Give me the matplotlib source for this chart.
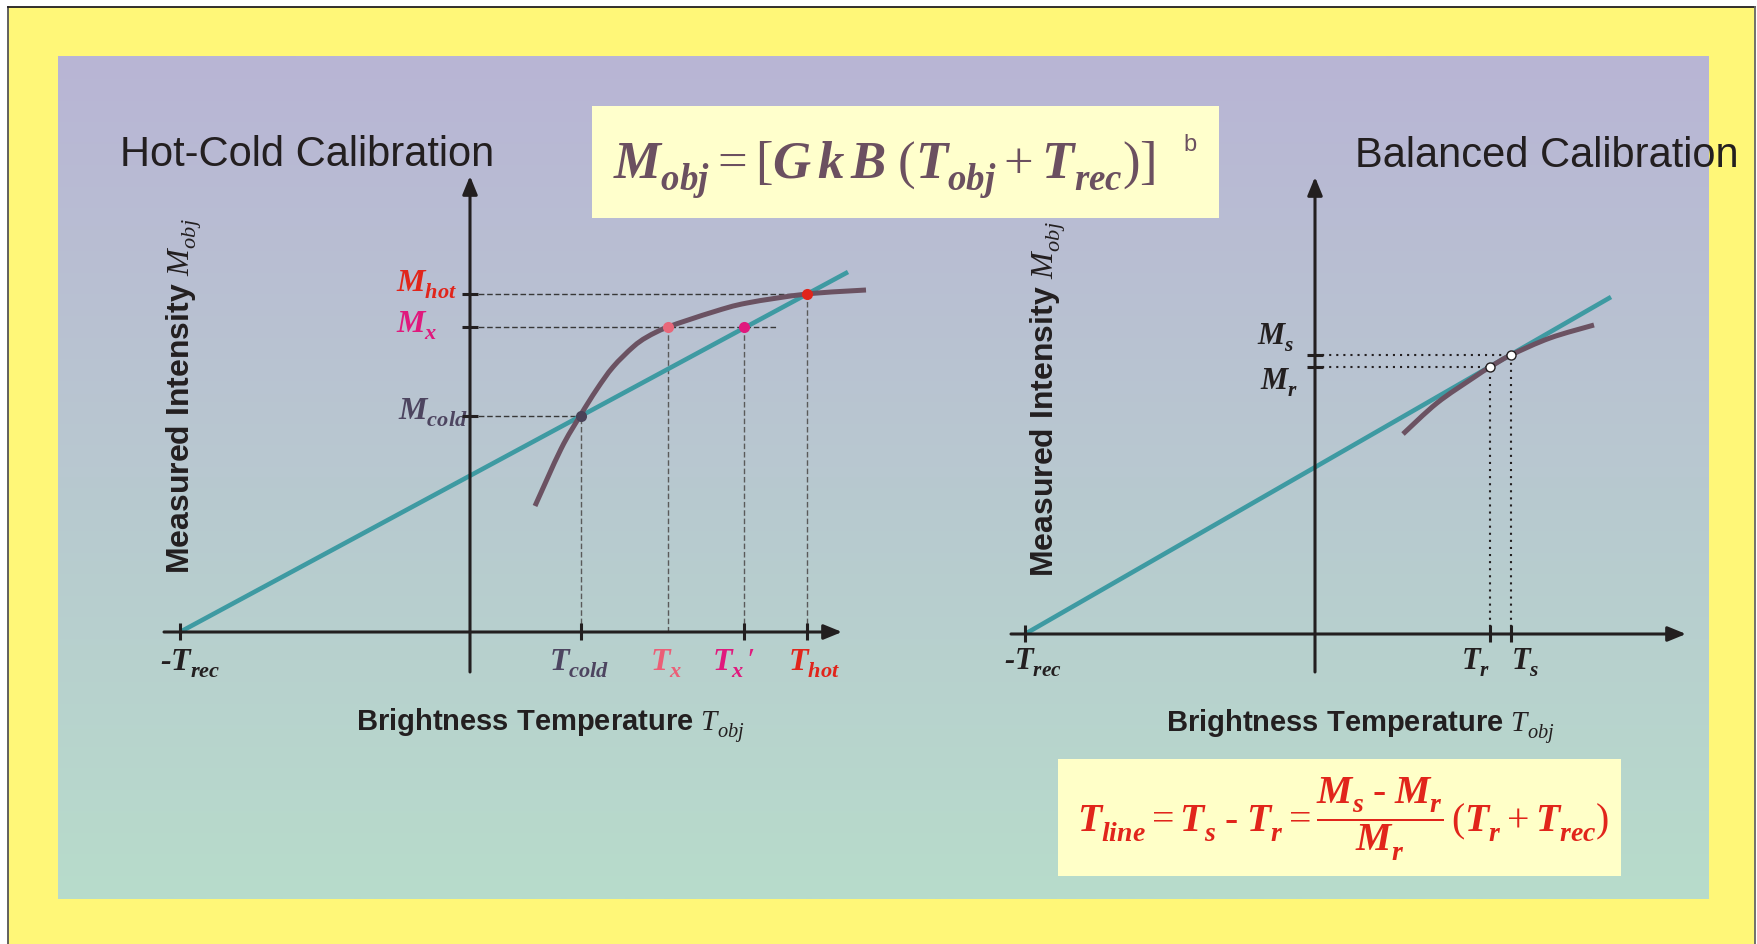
import numpy as np
import matplotlib
matplotlib.use("Agg")
import matplotlib.pyplot as plt
from matplotlib.patches import Rectangle, PathPatch
from matplotlib.path import Path

plt.rcParams['mathtext.fontset'] = 'custom'
plt.rcParams['mathtext.rm'] = 'Liberation Serif'
plt.rcParams['mathtext.it'] = 'Liberation Serif:italic:bold'
plt.rcParams['mathtext.bf'] = 'Liberation Serif:bold'
plt.rcParams['mathtext.cal'] = 'Liberation Serif:italic'
plt.rcParams['mathtext.sf'] = 'Liberation Sans'
plt.rcParams['font.family'] = ['Liberation Sans', 'DejaVu Sans']

# drop subscripts a little further below the baseline, as in typeset slides
try:
    import matplotlib._mathtext as _mt
    _mt.FontConstantsBase.subdrop = 0.62
    _mt.FontConstantsBase.sub1 = 0.5
except Exception:
    pass

# ---------------- data: hot-cold calibration ----------------
T_REC = 290
hc_temps = [111, 198, 274, 337]            # T_cold, T_x, T_x', T_hot
hc_levels = [216, 305, 338]                # M_cold, M_x, M_hot
hc_line_t = [-290, 378]
hc_line_m = [0, 360]
hc_curve_t = [65, 91, 110, 127, 143, 163, 177, 198, 243, 277, 337, 396]
hc_curve_m = [126, 183, 216, 243, 265, 285, 295, 305, 320, 329, 338, 342]
hc_point_t = [111, 198, 274, 337]
hc_point_m = [216, 305, 305, 338]
hc_point_colors = ['#4A4258', '#E8677A', '#E0197D', '#E1251B']

# ---------------- data: balanced calibration ----------------
bal_temps = [175, 196]                     # T_r, T_s
bal_levels = [267, 279]                    # M_r, M_s
bal_line_t = [-290, 296]
bal_line_m = [0, 337]
bal_curve_t = [88, 122, 158, 175, 196, 235, 279]
bal_curve_m = [200, 231, 256, 267, 279, 296, 309]

INK = '#231F20'
TEAL = '#3E9AA2'
CURVE = '#6B5262'
RED = '#E1251B'
MAGENTA = '#E0197D'
SALMON = '#EC5E76'
SLATE = '#4D4560'
MAUVE = '#6B5060'
HY = '\u2010'   # typographic hyphen, kept short unlike the math minus

W, H = 1758, 945
fig = plt.figure(figsize=(W / 100, H / 100), dpi=100)
fig.patch.set_facecolor('white')

# ---------------- backdrop: frame, gradient panel, formula boxes ----------------
bg = fig.add_axes([0, 0, 1, 1])
bg.axis('off')
bg.add_patch(Rectangle((8, 8), 1747, 945, facecolor='#FFF778',
                       edgecolor='none', zorder=0))
bg.plot([8, 8], [8, H], color='#555555', lw=1.3, zorder=1)
bg.plot([8, 1755], [8, 8], color=INK, lw=1.3, zorder=1)
bg.plot([1755, 1755], [8, H], color='#666666', lw=1.3, zorder=1)

top_rgb = np.array([185, 181, 213]) / 255
bot_rgb = np.array([183, 220, 203]) / 255
frac = np.linspace(0, 1, 256)[:, None, None]
grad = top_rgb[None, None, :] * (1 - frac) + bot_rgb[None, None, :] * frac
bg.imshow(grad, extent=(58, 1709, 900, 57), aspect='auto', zorder=1,
          interpolation='bilinear')
bg.set_xlim(0, W)
bg.set_ylim(H, 0)

bg.add_patch(Rectangle((592, 107), 627, 112, facecolor='#FFFFCC',
                       edgecolor='none', zorder=2))
bg.add_patch(Rectangle((1058, 760), 563, 117, facecolor='#FFFFC8',
                       edgecolor='none', zorder=2))
bg.text(613, 179, r'$M_{obj} = [G\,k\,B\;(T_{obj} + T_{rec})]$', color=MAUVE,
        fontsize=38, ha='left', va='baseline', zorder=3)
bg.text(1183, 151, 'b', color=MAUVE, fontsize=17, ha='left', va='baseline',
        zorder=3)
bg.text(1077, 832,
        r'$T_{line} = T_s\;' + HY + r'\;T_r = \dfrac{M_s\;' + HY +
        r'\;M_r}{M_r}\,(T_r + T_{rec})$',
        color=RED, fontsize=28.5, ha='left', va='baseline', zorder=3)


def chart_axes(ox, oy, x0, x1, y0, y1):
    """Axes whose data unit is one pixel, origin at (ox, oy) in figure pixels."""
    ax = fig.add_axes([x0 / W, 1 - y1 / H, (x1 - x0) / W, (y1 - y0) / H])
    ax.set_xlim(x0 - ox, x1 - ox)
    ax.set_ylim(oy - y1, oy - y0)
    ax.axis('off')
    ax.patch.set_alpha(0)
    return ax


def draw_axes_arrows(ax, xmin, xmax, ymin, ymax):
    for start, end in [((xmin, 0), (xmax, 0)), ((0, ymin), (0, ymax))]:
        ax.annotate('', xy=end, xytext=start,
                    arrowprops=dict(arrowstyle='-|>,head_length=1.1,head_width=0.45',
                                    color=INK, lw=2.2, shrinkA=0, shrinkB=0),
                    zorder=3)


def smooth_curve(ax, xs, ys, **kw):
    """Draw a Catmull-Rom style Bezier path through the given points."""
    p = np.column_stack([xs, ys]).astype(float)
    ext = np.vstack([p[0], p, p[-1]])
    verts = [tuple(p[0])]
    codes = [Path.MOVETO]
    for i in range(1, len(ext) - 2):
        p0, p1, p2, p3 = ext[i - 1], ext[i], ext[i + 1], ext[i + 2]
        verts += [tuple(p1 + (p2 - p0) / 6), tuple(p2 - (p3 - p1) / 6), tuple(p2)]
        codes += [Path.CURVE4] * 3
    ax.add_patch(PathPatch(Path(verts, codes), fill=False, capstyle='butt',
                           joinstyle='round', **kw))


def tick(ax, x, y, vertical):
    if vertical:
        ax.plot([x, x], [y - 8, y + 9], color=INK, lw=2.2, zorder=4,
                solid_capstyle='butt')
    else:
        ax.plot([x - 8, x + 8], [y, y], color=INK, lw=2.2, zorder=4,
                solid_capstyle='butt')


LBL = 23
SERIF_BOLD = dict(fontfamily='Liberation Serif', fontweight='bold',
                  fontstyle='italic')

# ---------------- left chart: hot-cold calibration ----------------
axl = chart_axes(470, 633, 60, 900, 100, 760)
draw_axes_arrows(axl, -306, 372, -40, 456)
axl.plot(hc_line_t, hc_line_m, color=TEAL, lw=3.3, zorder=2,
         solid_capstyle='butt')
smooth_curve(axl, hc_curve_t, hc_curve_m, edgecolor=CURVE, lw=3.6, zorder=2)

t_cold, t_x, t_xp, t_hot = hc_temps
m_cold, m_x, m_hot = hc_levels
dash_h = dict(color='#383838', lw=1.0, linestyle=(0, (4, 2)), zorder=1)
dash_v = dict(color='#5A5A5A', lw=1.0, linestyle=(0, (4, 2)), zorder=1)
axl.plot([0, t_hot], [m_hot, m_hot], **dash_h)
axl.plot([0, 308], [m_x, m_x], **dash_h)
axl.plot([0, t_cold], [m_cold, m_cold], **dash_h)
for t, m in zip(hc_point_t, hc_point_m):
    axl.plot([t, t], [0, m], **dash_v)
for t, m, c in zip(hc_point_t, hc_point_m, hc_point_colors):
    axl.plot(t, m, 'o', ms=8, color=c, mec='none', zorder=5)

tick(axl, -T_REC, 0, True)
for t in (t_cold, t_xp, t_hot):
    tick(axl, t, 0, True)
for m in hc_levels:
    tick(axl, 0, m, False)

axl.text(-74, m_hot + 3, r'$M_{hot}$', color=RED, fontsize=LBL,
         ha='left', va='baseline', clip_on=False)
axl.text(-74, m_x - 5, r'$M_{x}$', color=MAGENTA, fontsize=LBL,
         ha='left', va='baseline', clip_on=False)
axl.text(-72, m_cold - 3, r'$M_{cold}$', color=SLATE, fontsize=LBL,
         ha='left', va='baseline', clip_on=False)

xl_y = -38
axl.text(-280, xl_y, r'-$T_{rec}$', color=INK, fontsize=LBL,
         ha='center', va='baseline', **SERIF_BOLD)
axl.text(t_cold - 2, xl_y, r'$T_{cold}$', color=SLATE, fontsize=LBL,
         ha='center', va='baseline')
axl.text(t_x - 2, xl_y, r'$T_{x}$', color=SALMON, fontsize=LBL,
         ha='center', va='baseline')
axl.text(t_xp - 10, xl_y, r'$T_{x}\,\prime$', color=MAGENTA, fontsize=LBL,
         ha='center', va='baseline')
axl.text(t_hot + 7, xl_y, r'$T_{hot}$', color=RED, fontsize=LBL,
         ha='center', va='baseline')

axl.text(-350, 467, 'Hot-Cold Calibration', color=INK, fontsize=30,
         ha='left', va='baseline', clip_on=False)
axl.text(-114, -98, r'Brightness Temperature $\mathcal{T}_{\mathcal{obj}}$',
         color=INK, fontsize=21, fontweight='bold', ha='left', va='baseline')
axl.text(-280, 59, r'Measured Intensity $\mathcal{M}_{\mathcal{obj}}$',
         color=INK, fontsize=23, fontweight='bold', rotation=90,
         rotation_mode='anchor', ha='left', va='baseline')

# ---------------- right chart: balanced calibration ----------------
axr = chart_axes(1315, 635, 940, 1750, 100, 760)
draw_axes_arrows(axr, -304, 371, -38, 457)
axr.plot(bal_line_t, bal_line_m, color=TEAL, lw=3.3, zorder=2,
         solid_capstyle='butt')
smooth_curve(axr, bal_curve_t, bal_curve_m, edgecolor=CURVE, lw=3.6, zorder=2)

t_r, t_s = bal_temps
m_r, m_s = bal_levels
dots = dict(color=INK, lw=1.5, linestyle=(0, (1, 2.4)), zorder=1)
for t, m in zip(bal_temps, bal_levels):
    axr.plot([0, t], [m, m], **dots)
    axr.plot([t, t], [0, m], **dots)
    axr.plot(t, m, 'o', ms=6.5, mfc='white', mec=INK, mew=1.0, zorder=5)

tick(axr, -T_REC, 0, True)
for t in bal_temps:
    tick(axr, t, 0, True)
for m in bal_levels:
    tick(axr, 0, m, False)

axr.text(-58, m_s + 11, r'$M_{s}$', color=INK, fontsize=22,
         ha='left', va='baseline')
axr.text(-55, m_r - 22, r'$M_{r}$', color=INK, fontsize=22,
         ha='left', va='baseline')
axr.text(-282, -35, r'-$T_{rec}$', color=INK, fontsize=22,
         ha='center', va='baseline', **SERIF_BOLD)
axr.text(t_r - 14, -35, r'$T_{r}$', color=INK, fontsize=22,
         ha='center', va='baseline')
axr.text(t_s + 14, -35, r'$T_{s}$', color=INK, fontsize=22,
         ha='center', va='baseline')

axr.text(40, 468, 'Balanced Calibration', color=INK, fontsize=30,
         ha='left', va='baseline', clip_on=False)
axr.text(-149, -97, r'Brightness Temperature $\mathcal{T}_{\mathcal{obj}}$',
         color=INK, fontsize=21, fontweight='bold', ha='left', va='baseline')
axr.text(-261, 58, r'Measured Intensity $\mathcal{M}_{\mathcal{obj}}$',
         color=INK, fontsize=23, fontweight='bold', rotation=90,
         rotation_mode='anchor', ha='left', va='baseline')

fig.savefig('out.png', dpi=100)
